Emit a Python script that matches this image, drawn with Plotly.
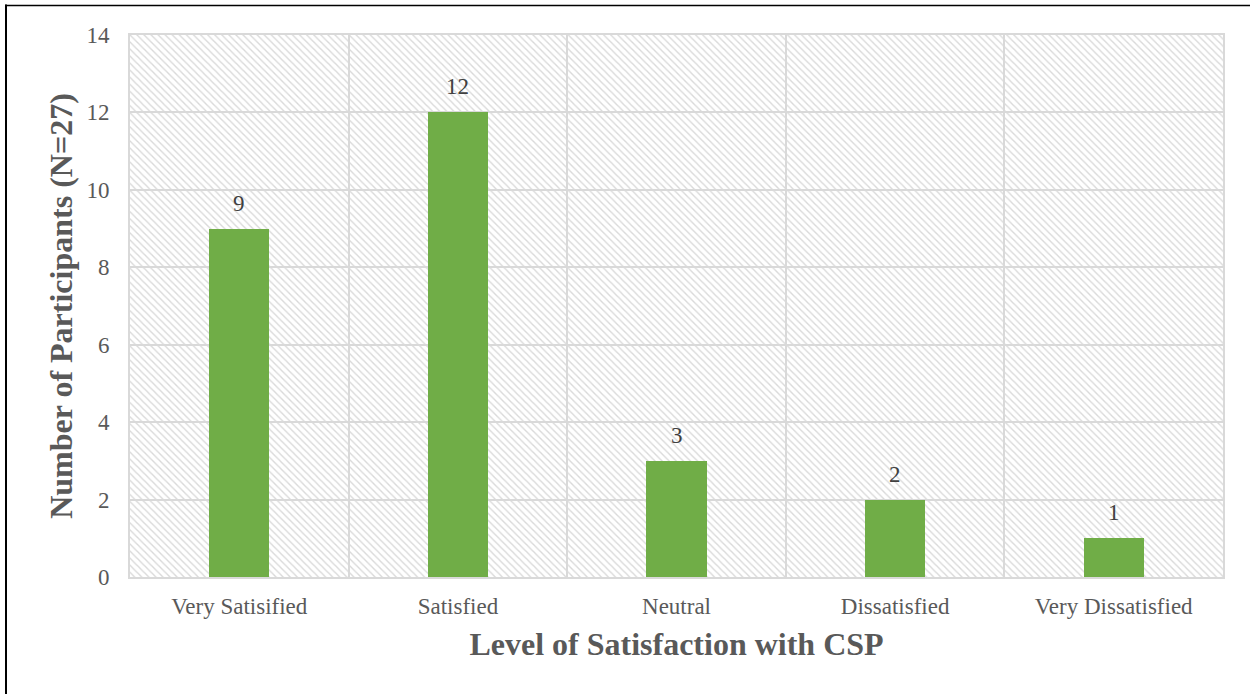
import plotly.graph_objects as go

# Survey responses: satisfaction with CSP
categories = ["Very Satisified", "Satisfied", "Neutral", "Dissatisfied", "Very Dissatisfied"]
participants = [9, 12, 3, 2, 1]
y_ticks = [0, 2, 4, 6, 8, 10, 12, 14]

FONT = "Liberation Serif, Times New Roman, serif"
GREEN = "#70AD47"
GRID = "#d9d9d9"
TEXT = "#595959"

W, H = 1250, 694
L, R, T, B = 130, 27, 35, 117
pw, ph = W - L - R, H - T - B

xpos = list(range(len(categories)))
ymax = y_ticks[-1]

fig = go.Figure()

# Hatched plot-area background (transparent gaps let the gridlines show)
fig.add_trace(go.Bar(
    x=[(len(categories) - 1) / 2], y=[ymax], width=[len(categories)],
    marker=dict(color="rgba(0,0,0,0)", line=dict(width=0),
                pattern=dict(shape="\\", fillmode="replace", fgcolor="#d9d9d9",
                             size=5, solidity=0.28)),
    hoverinfo="skip", showlegend=False,
))

# Participant counts
fig.add_trace(go.Bar(
    x=xpos, y=participants, width=0.275,
    marker=dict(color=GREEN, line=dict(width=0)),
    showlegend=False,
))

# Value labels above each bar
for xi, v in zip(xpos, participants):
    fig.add_annotation(x=xi, y=v, text=str(v), showarrow=False,
                       yanchor="bottom", yshift=11,
                       font=dict(family=FONT, size=23, color="#404040"))

# Outer frame (left and top edges)
def px_x(p):
    return (p - L) / pw

def px_y(p):
    return (H - B - p) / ph

fig.add_shape(type="line", xref="paper", yref="paper",
              x0=px_x(6), x1=px_x(6), y0=px_y(H + 5), y1=px_y(4.5),
              line=dict(color="black", width=2))
fig.add_shape(type="line", xref="paper", yref="paper",
              x0=px_x(5), x1=px_x(W + 5), y0=px_y(5.5), y1=px_y(5.5),
              line=dict(color="black", width=1.5))

fig.update_layout(
    width=W, height=H,
    margin=dict(l=L, r=R, t=T, b=B),
    paper_bgcolor="white", plot_bgcolor="white",
    barmode="overlay", bargap=0,
    font=dict(family=FONT, color=TEXT),
    xaxis=dict(
        range=[-0.5, len(categories) - 0.5],
        tickvals=xpos, ticktext=categories,
        showgrid=False, zeroline=False,
        showline=True, linecolor=GRID, linewidth=2, mirror=True,
        ticks="", ticklabelstandoff=7,
        tickfont=dict(family=FONT, size=23, color=TEXT),
        minor=dict(tickvals=[i + 0.5 for i in xpos[:-1]], showgrid=True,
                   gridcolor=GRID, gridwidth=2, ticks=""),
        title=dict(text="<b>Level of Satisfaction with CSP</b>",
                   font=dict(family=FONT, size=32, color=TEXT), standoff=15),
    ),
    yaxis=dict(
        range=[0, ymax], tickvals=y_ticks,
        showgrid=True, gridcolor=GRID, gridwidth=2, zeroline=False,
        showline=True, linecolor=GRID, linewidth=2, mirror=True,
        ticks="", ticklabelstandoff=14,
        tickfont=dict(family=FONT, size=23, color=TEXT),
        title=dict(text="<b>Number of Participants (N=27)</b>",
                   font=dict(family=FONT, size=32, color=TEXT), standoff=4),
    ),
)

fig.write_html("out.html")
